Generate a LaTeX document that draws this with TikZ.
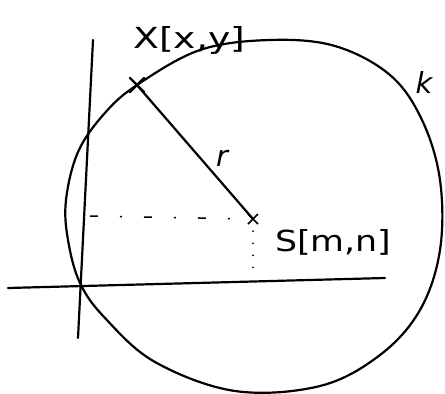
\documentclass[tikz,border=0pt]{standalone}
\usepackage{fontspec}
\setmainfont{DejaVu Sans}
\usetikzlibrary{calc}
\begin{document}
\begin{tikzpicture}[x=1pt,y=-1pt,
  ink/.style={line width=2.2pt,line cap=round,line join=round},
  lbl/.style={font=\fontsize{29}{32}\selectfont,inner sep=0pt}]
\useasboundingbox (0,0) rectangle (445,394);
% circle k
\draw[ink] plot[smooth cycle,tension=0.6] coordinates {
 (137,85) (200,50) (270,40) (335,46) (390,75) (422,120) (440,180) (440,250)
 (420,310) (380,355) (320,386) (235,391) (155,362) (105,318) (80,283)
 (68,240) (66,200) (78,152) (104,114)};
% axes
\coordinate (ya) at (93,40);
\coordinate (yb) at (78,338);
\coordinate (xa) at (8,288);
\coordinate (xb) at (385,278);
\draw[ink] (ya) -- (yb);
\draw[ink] (xa) -- (xb);
% points
\coordinate (X) at (137,85);
\coordinate (S) at (253,219);
\draw[ink] (X) -- (S);
\node[lbl] (r) at (222,158) {\itshape r};
\draw[ink] ($(X)+(-7,-7)$) -- ($(X)+(7,7)$) ($(X)+(-7,7)$) -- ($(X)+(7,-7)$);
\draw[line width=1.6pt] ($(S)+(-5,-5)$) -- ($(S)+(5,5)$) ($(S)+(-5,5)$) -- ($(S)+(5,-5)$);
% helper lines
\coordinate (dl) at (90,216);
\coordinate (db) at (253,272);
\draw[line width=1.5pt,dash pattern=on 8pt off 22pt on 2pt off 22pt] (dl) -- (S);
\draw[line width=1.8pt,line cap=round,dash pattern=on 0.1pt off 12pt] (S) -- (db);
% labels
\node[lbl,anchor=west,xscale=1.3] (Xl) at (133,40) {X[x,y]};
\node[lbl,anchor=west,xscale=1.2] (Sl) at (275,242) {S[m,n]};
\node[lbl] (k) at (424,82) {\itshape k};
\end{tikzpicture}
\end{document}
